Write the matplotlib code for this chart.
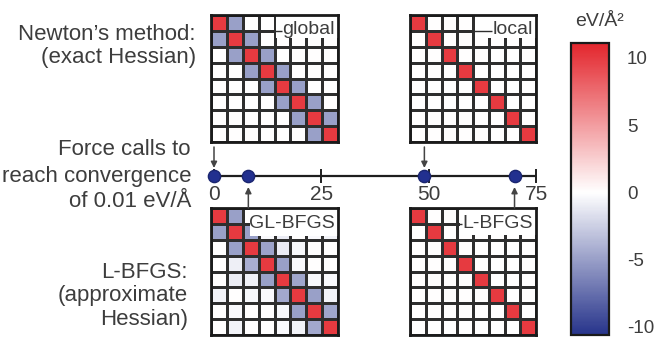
import matplotlib
matplotlib.use("Agg")
import matplotlib.pyplot as plt
import numpy as np
from matplotlib.colors import LinearSegmentedColormap, Normalize
from matplotlib.patches import Rectangle

plt.rcParams['font.family'] = ['Liberation Sans', 'DejaVu Sans']

# ---------------- data ----------------
newton_global = [
    [10, -5, 0, 0, 0, 0, 0, 0],
    [-5, 10, -5, 0, 0, 0, 0, 0],
    [0, -5, 10, -5, 0, 0, 0, 0],
    [0, 0, -5, 10, -5, 0, 0, 0],
    [0, 0, 0, -5, 10, -5, 0, 0],
    [0, 0, 0, 0, -5, 10, -5, 0],
    [0, 0, 0, 0, 0, -5, 10, -5],
    [0, 0, 0, 0, 0, 0, -5, 10],
]
newton_local = [
    [10, 0, 0, 0, 0, 0, 0, 0],
    [0, 10, 0, 0, 0, 0, 0, 0],
    [0, 0, 10, 0, 0, 0, 0, 0],
    [0, 0, 0, 10, 0, 0, 0, 0],
    [0, 0, 0, 0, 10, 0, 0, 0],
    [0, 0, 0, 0, 0, 10, 0, 0],
    [0, 0, 0, 0, 0, 0, 10, 0],
    [0, 0, 0, 0, 0, 0, 0, 10],
]
gl_bfgs = [
    [10, -5, 0, 0, 0, -0.6, 0, 0],
    [-5, 10, -5, -0.3, -1.0, 0, -0.3, -0.6],
    [0, -5, 10, -4.8, -1.0, -0.4, 0, 0],
    [0, -0.8, -4.2, 10, -5, -0.3, 0, 0],
    [0, -1.0, -0.7, -5, 10, -4.6, -0.4, -0.3],
    [-0.6, 0, -0.4, -0.3, -4.5, 10, -5, -0.6],
    [0, -0.3, 0, 0, -0.4, -5, 10, -4.6],
    [0, -0.6, 0, 0, -0.3, -0.6, -4.5, 10],
]
l_bfgs = [
    [10, 0, 0, 0, 0, 0, 0, 0],
    [0, 10, 0, 0, 0, 0, 0, 0],
    [0, 0, 10, 0, 0, 0, 0, 0],
    [0, 0, 0, 10, 0, 0, 0, 0],
    [0, 0, 0, 0, 10, 0, 0, 0],
    [0, 0, 0, 0, 0, 10, 0, 0],
    [0, 0, 0, 0, 0, 0, 10, 0],
    [0, 0, 0, 0, 0, 0, 0, 10],
]
matrix_labels = ["global", "local", "GL-BFGS", "L-BFGS"]
force_calls_newton = [0, 49]      # global, local
force_calls_lbfgs = [8, 70]       # GL-BFGS, L-BFGS
timeline_ticks = [0, 25, 50, 75]
cbar_ticks = [10, 5, 0, -5, -10]
cbar_label = "eV/Å²"

# ---------------- style ----------------
W, H = 655, 337
TXT = '#3d3d3d'
GRID = '#2e2e2e'
vmin, vmax = -10.6, 11.1
z = -vmin / (vmax - vmin)
cmap = LinearSegmentedColormap.from_list(
    'hess', [(0.0, '#27348b'), (z, '#ffffff'), (1.0, '#e3262d')])
norm = Normalize(vmin=vmin, vmax=vmax)

fig = plt.figure(figsize=(W / 100, H / 100), dpi=100)
fig.patch.set_facecolor('white')


def px_axes(x0, y0, w, h):
    return fig.add_axes([x0 / W, 1 - (y0 + h) / H, w / W, h / H])


def ftext(x, y, s, **kw):
    kw.setdefault('color', TXT)
    fig.text(x / W, 1 - y / H, s, **kw)


def draw_matrix(box, data, label, box_left, box_bottom, label_y):
    ax = px_axes(*box)
    arr = np.array(data, dtype=float)
    n = arr.shape[0]
    ax.pcolormesh(np.arange(n + 1), np.arange(n + 1), arr, cmap=cmap, norm=norm,
                  edgecolors=GRID, linewidth=1.0)
    ax.set_xlim(0, n)
    ax.set_ylim(n, 0)
    ax.set_xticks([])
    ax.set_yticks([])
    for sp in ax.spines.values():
        sp.set_linewidth(2.0)
        sp.set_color('#1a1a1a')
        sp.set_zorder(6)
    ax.add_patch(Rectangle((box_left, 0), n - box_left, box_bottom,
                           facecolor='white', edgecolor='none', zorder=3))
    t = ax.text(n - 0.2, label_y, label, ha='right', va='center',
                fontsize=14, color=TXT, zorder=5)
    return ax, t


mats = [
    ((211, 15, 127, 127), newton_global, matrix_labels[0], 4.1, 1.45, 0.9),
    ((410, 15, 126, 127), newton_local, matrix_labels[1], 4.1, 1.45, 0.9),
    ((211, 208, 127, 127), gl_bfgs, matrix_labels[2], 2.45, 1.75, 1.0),
    ((410, 208, 126, 127), l_bfgs, matrix_labels[3], 3.2, 1.7, 1.0),
]
drawn = [draw_matrix(*m) for m in mats]

fig.canvas.draw()
r = fig.canvas.get_renderer()
for (ax, t), m in zip(drawn, mats):
    bb = t.get_window_extent(r)
    x_left = ax.transData.inverted().transform((bb.x0, bb.y0))[0]
    ax.plot([m[3] - 0.1, x_left - 0.05], [1, 1], color=GRID, lw=1.0, zorder=4,
            solid_capstyle='butt')

# ---------------- timeline ----------------
tl = px_axes(200, 140, 350, 75)
ppu = (536 - 214) / 75.0
tl.set_xlim(-(214 - 200) / ppu, (550 - 214) / ppu)
tl.set_ylim(215, 140)
tl.axis('off')
LY = 176
tl.plot([min(timeline_ticks), max(timeline_ticks)], [LY, LY], color='#1e1e1e',
        lw=1.6, zorder=2, solid_capstyle='butt')
for tk in timeline_ticks:
    tl.plot([tk, tk], [LY - 6, LY + 6], color='#1e1e1e', lw=1.4, zorder=2)
    tl.text(tk, 194, str(tk), ha='center', va='center', fontsize=15, color=TXT)
all_calls = force_calls_newton + force_calls_lbfgs
tl.plot(all_calls, [LY] * len(all_calls), 'o', ms=8.8, color='#22308f',
        mec='#1a2570', zorder=4)
arrow_kw = dict(arrowstyle='-|>', lw=1.1, color='#444444', mutation_scale=9,
                shrinkA=0, shrinkB=0)
for fc in force_calls_newton:
    tl.annotate('', xy=(fc, 168), xytext=(fc, 147), arrowprops=arrow_kw)
for fc in force_calls_lbfgs:
    tl.annotate('', xy=(fc, 187), xytext=(fc, 208), arrowprops=arrow_kw)

# ---------------- left texts ----------------
FS = 16
ftext(196, 35, "Newton’s method:", ha='right', va='center', fontsize=FS)
ftext(196, 58, "(exact Hessian)", ha='right', va='center', fontsize=FS)
ftext(191, 149, "Force calls to", ha='right', va='center', fontsize=FS)
ftext(191, 176, "reach convergence", ha='right', va='center', fontsize=FS)
ftext(191, 201, "of 0.01 eV/Å", ha='right', va='center', fontsize=FS)
ftext(188, 272, "L-BFGS:", ha='right', va='center', fontsize=FS)
ftext(188, 296, "(approximate", ha='right', va='center', fontsize=FS)
ftext(188, 319, "Hessian)", ha='right', va='center', fontsize=FS)

# ---------------- colorbar ----------------
cax = px_axes(571, 43, 38, 292)
sm = plt.cm.ScalarMappable(norm=norm, cmap=cmap)
cb = fig.colorbar(sm, cax=cax)
cb.set_ticks(cbar_ticks)
cb.set_ticklabels([str(v) for v in cbar_ticks])
cb.ax.tick_params(length=0, pad=13, labelsize=13.5, labelcolor=TXT)
cb.outline.set_linewidth(1.6)
cb.outline.set_edgecolor('#1a1a1a')
ftext(600, 21, cbar_label, ha='center', va='center', fontsize=14)

fig.savefig('out.png', dpi=100, facecolor='white')
